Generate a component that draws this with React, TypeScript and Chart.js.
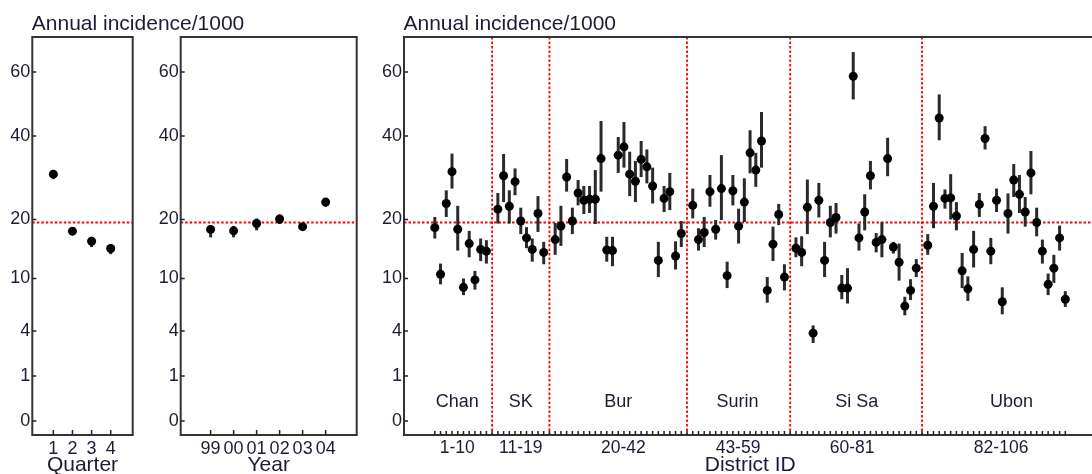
import React, { useEffect, useRef } from "react";
import { Chart, registerables } from "chart.js";

Chart.register(...registerables);

// ---------------- data ----------------
const yTickValues = [0, 1, 4, 10, 20, 40, 60];
const overallMean = 19.4;

const quarterLabels = ["1", "2", "3", "4"];
const quarterValues = [30.0, 17.75, 15.9, 14.66];
const quarterLower = [28.8, 17.0, 14.9, 13.7];
const quarterUpper = [31.0, 18.5, 16.7, 15.4];

const yearLabels = ["99", "00", "01", "02", "03", "04"];
const yearValues = [18.07, 17.8, 19.2, 20.1, 18.6, 23.6];
const yearLower = [16.6, 16.6, 17.9, 19.1, 17.9, 22.6];
const yearUpper = [18.9, 18.7, 20.2, 21.0, 19.3, 24.4];

const groupNames = ["Chan", "SK", "Bur", "Surin", "Si Sa", "Ubon"];
const groupRanges = ["1-10", "11-19", "20-42", "43-59", "60-81", "82-106"];
const groupSizes = [10, 9, 23, 17, 22, 25];

const districtValues = [
  18.4, 10.6, 23.3, 30.6, 18.1, 8.8, 15.5, 9.8, 14.5, 14.2,
  22.1, 29.6, 22.7, 28.2, 19.7, 16.5, 14.5, 21.2, 14.0,
  16.2, 18.7, 29.3, 19.7, 25.6, 24.0, 24.2, 24.2, 33.9, 14.4, 14.3, 34.8, 37.0, 30.0, 28.3, 33.7, 31.8, 27.2, 12.7, 24.4, 25.9, 13.4, 17.3,
  22.9, 16.2, 17.5, 25.9, 18.1, 26.6, 10.4, 26.1, 18.7, 23.6, 35.4, 31.0, 38.6, 8.4, 15.4, 21.0, 10.2,
  14.7, 14.0, 22.5, 3.8, 24.0, 12.7, 19.4, 20.4, 8.7, 8.7, 58.5, 16.5, 21.5, 29.6, 15.7, 16.2, 33.9, 14.9, 12.4, 6.5, 8.4, 11.5,
  15.2, 22.7, 45.2, 24.4, 24.5, 20.7, 11.1, 8.6, 14.5, 23.1, 39.3, 14.2, 24.0, 7.0, 21.2, 28.6, 25.3, 21.5, 30.3, 19.4, 14.2, 9.2, 11.5, 16.5, 7.3,
];
const districtLower = [
  16.4, 9.2, 20.5, 26.6, 14.3, 7.8, 13.2, 8.5, 12.6, 12.2,
  19.2, 23.6, 19.2, 25.1, 17.2, 14.7, 12.5, 17.6, 12.1,
  13.6, 15.1, 25.9, 17.2, 22.9, 21.1, 21.3, 19.1, 25.9, 12.5, 11.8, 30.3, 31.6, 24.9, 23.6, 29.3, 27.8, 23.3, 10.2, 21.5, 21.9, 11.3, 14.9,
  20.2, 14.3, 14.9, 22.6, 16.2, 19.9, 8.7, 22.9, 15.5, 19.5, 30.2, 27.0, 31.6, 6.9, 12.6, 18.9, 8.4,
  13.2, 11.8, 17.2, 3.0, 20.4, 10.2, 16.6, 17.3, 7.3, 6.8, 50.9, 14.3, 17.9, 26.4, 14.0, 13.2, 29.5, 13.8, 9.7, 5.5, 7.2, 10.2,
  13.6, 18.3, 38.8, 22.2, 20.0, 17.9, 8.7, 7.1, 11.6, 20.5, 36.3, 12.1, 21.5, 5.6, 17.3, 24.7, 21.3, 18.6, 25.3, 16.8, 12.2, 7.8, 9.4, 14.3, 6.4,
];
const districtUpper = [
  20.5, 12.2, 26.2, 35.2, 22.8, 10.0, 17.8, 11.1, 16.4, 16.1,
  25.6, 35.1, 26.2, 31.4, 22.4, 18.5, 16.4, 24.9, 15.8,
  19.3, 22.8, 33.8, 22.4, 28.6, 27.2, 27.2, 31.0, 44.3, 16.7, 16.7, 39.7, 44.0, 35.7, 33.3, 38.6, 36.3, 31.6, 15.8, 27.2, 30.3, 15.9, 19.7,
  26.6, 18.3, 20.5, 29.8, 19.9, 34.8, 12.5, 29.8, 22.2, 29.0, 41.6, 35.4, 47.0, 10.2, 18.6, 23.2, 12.1,
  16.6, 16.8, 28.7, 4.5, 27.9, 15.8, 22.8, 23.4, 10.5, 11.5, 67.0, 19.2, 25.3, 33.3, 17.4, 19.5, 39.5, 15.8, 15.5, 7.6, 9.9, 12.9,
  17.2, 27.9, 52.5, 26.4, 30.0, 23.6, 13.9, 10.3, 17.8, 25.6, 42.8, 16.5, 26.6, 8.8, 25.5, 32.5, 29.8, 24.7, 35.9, 22.4, 16.2, 10.7, 13.6, 18.8, 8.3,
];

// ---------------- layout / style ----------------
const FONT = "'Liberation Sans', Arial, sans-serif";
const TEXT = "#1c1c36";
const AXIS = "#333333";
const H = 474;
const AREA_TOP = 37;
const AREA_BOTTOM = 435;
const TITLE_TEXT = "Annual incidence/1000";

// label anchors on the district axis (slot units)
const groupNameAt = [4.9, 16.0, 33.0, 53.8, 74.6, 101.6];
const groupRangeAt = [4.9, 16.0, 33.9, 53.9, 73.8, 99.8];

const sq = (v: number) => Math.sqrt(Math.max(0, v));

// district slots: one empty slot between consecutive groups
const districtSlots: number[] = [];
const boundarySlots: number[] = [];
{
  let d = 0;
  groupSizes.forEach((n, g) => {
    for (let k = 0; k < n; k++) {
      d += 1;
      districtSlots.push(d + g);
    }
    if (g < groupSizes.length - 1) boundarySlots.push(d + g + 1);
  });
}
const allSlots: number[] = [];
for (let s = 1; s <= districtSlots[districtSlots.length - 1]; s++) allSlots.push(s);

type PanelCfg = {
  canvasLeft: number;
  canvasWidth: number;
  areaLeft: number;
  areaRight: number;
  xMin: number;
  xMax: number;
  xs: number[];
  values: number[];
  lower: number[];
  upper: number[];
  tickPos: number[];
  tickLabels: string[];
  tickFont: number;
  axisTitle: string;
  title?: string;
  vlines: number[];
  minorTicks: number[] | null;
  groupText: { at: number; text: string }[];
};

const panels: PanelCfg[] = [
  {
    canvasLeft: 0,
    canvasWidth: 270,
    areaLeft: 32.3,
    areaRight: 132.7,
    xMin: -0.1,
    xMax: 5.15,
    xs: quarterLabels.map((_, i) => i + 1),
    values: quarterValues,
    lower: quarterLower,
    upper: quarterUpper,
    tickPos: quarterLabels.map((_, i) => i + 1),
    tickLabels: quarterLabels,
    tickFont: 18,
    axisTitle: "Quarter",
    title: TITLE_TEXT,
    vlines: [],
    minorTicks: null,
    groupText: [],
  },
  {
    canvasLeft: 145,
    canvasWidth: 220,
    areaLeft: 35.7,
    areaRight: 211.7,
    xMin: -0.3,
    xMax: 7.35,
    xs: yearLabels.map((_, i) => i + 1),
    values: yearValues,
    lower: yearLower,
    upper: yearUpper,
    tickPos: yearLabels.map((_, i) => i + 1),
    tickLabels: yearLabels,
    tickFont: 18,
    axisTitle: "Year",
    vlines: [],
    minorTicks: null,
    groupText: [],
  },
  {
    canvasLeft: 365,
    canvasWidth: 736,
    areaLeft: 39,
    areaRight: 736,
    xMin: -4.374,
    xMax: 116.44,
    xs: districtSlots,
    values: districtValues,
    lower: districtLower,
    upper: districtUpper,
    tickPos: groupRangeAt,
    tickLabels: groupRanges,
    tickFont: 17.5,
    axisTitle: "District ID",
    title: TITLE_TEXT,
    vlines: boundarySlots,
    minorTicks: allSlots,
    groupText: groupNames.map((t, i) => ({ at: groupNameAt[i], text: t })),
  },
];

function makeDeco(cfg: PanelCfg) {
  return {
    id: "deco",
    beforeDatasetsDraw(chart: any) {
      const { ctx, chartArea: a } = chart;
      const x = chart.scales.x;
      const y = chart.scales.y;
      ctx.save();
      ctx.strokeStyle = "#ff0000";
      ctx.lineWidth = 1.8;
      ctx.setLineDash([2.5, 2]);
      const ym = y.getPixelForValue(sq(overallMean));
      ctx.beginPath();
      ctx.moveTo(a.left, ym);
      ctx.lineTo(a.right, ym);
      ctx.stroke();
      for (const s of cfg.vlines) {
        const px = x.getPixelForValue(s);
        ctx.beginPath();
        ctx.moveTo(px, a.top);
        ctx.lineTo(px, a.bottom);
        ctx.stroke();
      }
      ctx.setLineDash([]);
      ctx.strokeStyle = "#2a2a2a";
      ctx.lineWidth = 3;
      cfg.xs.forEach((xv, i) => {
        const px = x.getPixelForValue(xv);
        ctx.beginPath();
        ctx.moveTo(px, y.getPixelForValue(sq(cfg.lower[i])));
        ctx.lineTo(px, y.getPixelForValue(sq(cfg.upper[i])));
        ctx.stroke();
      });
      ctx.restore();
    },
    afterDraw(chart: any) {
      const { ctx, chartArea: a } = chart;
      const x = chart.scales.x;
      const y = chart.scales.y;
      ctx.save();
      // frame
      ctx.strokeStyle = AXIS;
      ctx.lineWidth = 2;
      ctx.strokeRect(a.left, a.top, a.right - a.left, a.bottom - a.top);
      // inward ticks
      ctx.lineWidth = 1.5;
      ctx.strokeStyle = "#222";
      ctx.beginPath();
      for (const t of y.ticks) {
        const py = y.getPixelForValue(t.value);
        ctx.moveTo(a.left, py);
        ctx.lineTo(a.left + 4, py);
      }
      if (cfg.minorTicks) {
        for (const s of cfg.minorTicks) {
          const px = x.getPixelForValue(s);
          ctx.moveTo(px, a.bottom);
          ctx.lineTo(px, a.bottom - 4);
        }
      } else {
        for (const t of x.ticks) {
          const px = x.getPixelForValue(t.value);
          ctx.moveTo(px, a.bottom);
          ctx.lineTo(px, a.bottom - 5);
        }
      }
      ctx.stroke();
      // texts
      ctx.fillStyle = TEXT;
      if (cfg.title) {
        ctx.font = `21px ${FONT}`;
        ctx.textAlign = "left";
        ctx.textBaseline = "alphabetic";
        ctx.fillText(cfg.title, a.left - 0.5, 30);
      }
      ctx.font = `18px ${FONT}`;
      ctx.textAlign = "center";
      ctx.textBaseline = "alphabetic";
      for (const g of cfg.groupText) {
        ctx.fillText(g.text, x.getPixelForValue(g.at), 407);
      }
      ctx.restore();
    },
  };
}

function Panel({ cfg }: { cfg: PanelCfg }) {
  const ref = useRef<HTMLCanvasElement | null>(null);
  useEffect(() => {
    if (!ref.current) return;
    const chart = new Chart(ref.current, {
      type: "scatter",
      data: {
        datasets: [
          {
            data: cfg.xs.map((xv, i) => ({ x: xv, y: sq(cfg.values[i]) })),
            pointRadius: 4.5,
            pointHoverRadius: 4.5,
            backgroundColor: "#000",
            borderWidth: 0,
          },
        ],
      },
      options: {
        animation: false,
        responsive: false,
        events: [],
        layout: {
          padding: { left: 0, top: AREA_TOP, right: cfg.canvasWidth - cfg.areaRight, bottom: 0 },
        },
        plugins: {
          legend: { display: false },
          tooltip: { enabled: false },
          title: { display: false },
        },
        scales: {
          x: {
            type: "linear",
            min: cfg.xMin,
            max: cfg.xMax,
            afterBuildTicks: (s: any) => {
              s.ticks = cfg.tickPos.map((v) => ({ value: v }));
            },
            afterFit: (s: any) => {
              s.height = H - AREA_BOTTOM;
            },
            grid: { display: false, drawTicks: false },
            border: { display: false },
            ticks: {
              autoSkip: false,
              maxRotation: 0,
              minRotation: 0,
              padding: 3,
              color: TEXT,
              font: { family: FONT, size: cfg.tickFont },
              callback: (_v: any, i: number) => cfg.tickLabels[i],
            },
            title: {
              display: true,
              text: cfg.axisTitle,
              color: TEXT,
              font: { family: FONT, size: 21 },
              padding: { top: 0, bottom: -4 },
            },
          },
          y: {
            type: "linear",
            min: -0.31,
            max: 8.52,
            afterBuildTicks: (s: any) => {
              s.ticks = yTickValues.map((v) => ({ value: sq(v) }));
            },
            afterFit: (s: any) => {
              s.width = cfg.areaLeft;
            },
            grid: { display: false, drawTicks: false },
            border: { display: false },
            ticks: {
              autoSkip: false,
              padding: 2,
              color: TEXT,
              font: { family: FONT, size: 18 },
              callback: (v: any) => String(Math.round(Number(v) * Number(v))),
            },
          },
        },
      },
      plugins: [makeDeco(cfg)],
    } as any);
    return () => chart.destroy();
  }, [cfg]);
  return (
    <canvas
      ref={ref}
      width={cfg.canvasWidth}
      height={H}
      style={{ position: "absolute", left: cfg.canvasLeft, top: 0, width: cfg.canvasWidth, height: H }}
    />
  );
}

export default function App() {
  return (
    <div
      style={{
        position: "absolute",
        left: 0,
        top: 0,
        width: 1092,
        height: H,
        overflow: "hidden",
        background: "#fff",
      }}
    >
      {panels.map((p, i) => (
        <Panel key={i} cfg={p} />
      ))}
    </div>
  );
}
